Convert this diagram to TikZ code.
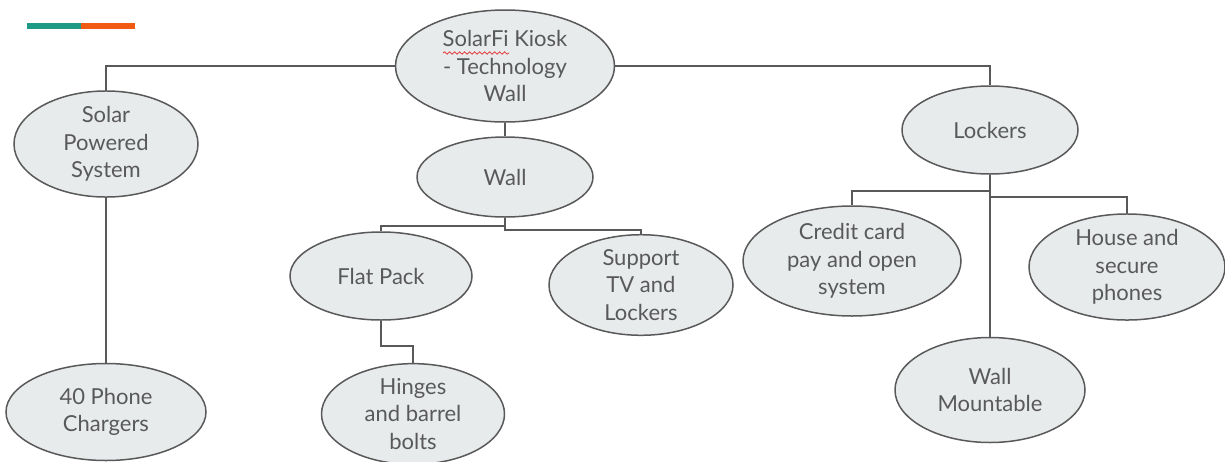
\documentclass[tikz,border=0pt]{standalone}
\usepackage{fontspec}
\setmainfont{Lato}
\usepackage{tikz}
\usetikzlibrary{shapes.geometric, decorations.pathmorphing}
\definecolor{bubbleFill}{HTML}{E8EBEC}
\definecolor{inkGrey}{HTML}{595959}
\definecolor{barTeal}{HTML}{1F9A86}
\definecolor{barOrange}{HTML}{F05A12}
\definecolor{spellRed}{HTML}{E03C3C}
\tikzset{
  bubble/.style = {ellipse, draw=inkGrey, fill=bubbleFill, line width=0.75pt,
                   inner sep=0pt, align=center, text=inkGrey,
                   font=\fontsize{11pt}{13.75pt}\selectfont},
  link/.style   = {draw=inkGrey, line width=0.75pt}
}

\begin{document}
\begin{tikzpicture}[x=0.5pt, y=-0.5pt]
  \useasboundingbox (0,0) rectangle (1225,461);
  % accent bar
  \fill[barTeal] (27,23) rectangle (81,29);
  \fill[barOrange] (81,23) rectangle (135,29);

  \node[bubble, minimum width=109.5pt, minimum height=56pt] (kiosk) at (505,66) {SolarFi Kiosk\\- Technology\\Wall};
  \node[bubble, minimum width=92pt, minimum height=44pt] (solar) at (106,144) {Solar\\Powered\\System};
  \node[bubble, minimum width=100pt, minimum height=48.5pt] (chargers) at (106,412) {40 Phone\\Chargers};
  \node[bubble, minimum width=88pt, minimum height=40pt] (wall) at (505,177) {Wall};
  \node[bubble, minimum width=91pt, minimum height=44pt] (flat) at (381,276) {Flat Pack};
  \node[bubble, minimum width=92pt, minimum height=44pt] (support) at (641,285) {Support\\TV and\\Lockers};
  \node[bubble, minimum width=91.5pt, minimum height=44pt] (hinges) at (413,414) {Hinges\\and barrel\\bolts};
  \node[bubble, minimum width=88pt, minimum height=44pt] (lockers) at (990,130) {Lockers};
  \node[bubble, minimum width=109pt, minimum height=55pt] (credit) at (852,261) {Credit card\\pay and open\\system};
  \node[bubble, minimum width=98pt, minimum height=50pt] (house) at (1127,267) {House and\\secure\\phones};
  \node[bubble, minimum width=95pt, minimum height=52.5pt] (mount) at (990,390) {Wall\\Mountable};

  % spell-check underline
  \draw[spellRed, line width=0.4pt, decorate, decoration={snake, amplitude=0.6pt, segment length=2.5pt}] (443,53) -- (509,53);

  \draw[link] (kiosk.west) -| (solar.north);
  \draw[link] (kiosk.east) -| (lockers.north);
  \draw[link] (kiosk.south) -- (wall.north);
  \draw[link] (solar.south) -- (chargers.north);
  \draw[link] (wall.south) -- ++(0,8) -| (flat.north);
  \draw[link] (wall.south) -- ++(0,12) -| (support.north);
  \draw[link] (flat.south) -- ++(0,25) -| (hinges.north);
  \draw[link] (lockers.south) -- ++(0,16) -| (credit.north);
  \draw[link] (lockers.south) -- ++(0,22) -| (house.north);
  \draw[link] (lockers.south) -- (mount.north);
\end{tikzpicture}
\end{document}
